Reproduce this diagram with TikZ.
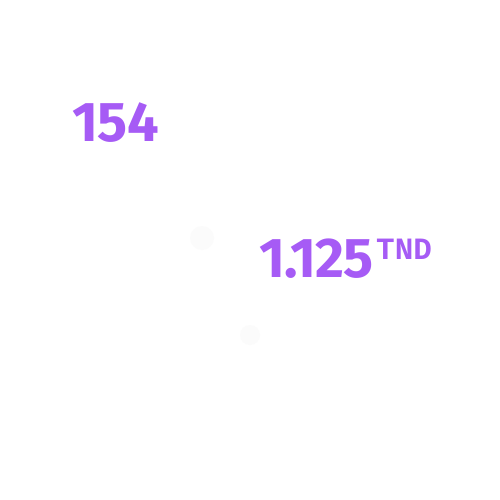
\documentclass[tikz,border=0pt]{standalone}
\usepackage{fontspec}
\setmainfont{Fira Sans}[UprightFont=* Bold]
\newfontfamily\monob{Liberation Mono}[UprightFont=* Bold]
\definecolor{numpurple}{HTML}{A65BF5}
\definecolor{faint}{HTML}{FBFBFB}
\begin{document}
\begin{tikzpicture}[x=1pt,y=-1pt,
  bignum/.style={text=numpurple,inner sep=0pt,anchor=base west,font=\fontsize{56}{56}\selectfont},
  unit/.style={text=numpurple,inner sep=0pt,anchor=base west,font=\monob\fontsize{31}{31}\selectfont}]
\useasboundingbox[fill=white] (0,0) rectangle (500,500);
\fill[faint] (202,238) circle (12);
\fill[faint] (250,335) circle (10);
\node[bignum] (a) at (72,141) {\addfontfeatures{LetterSpace=-1}154};
\node[bignum] (b) at (259,277) {\addfontfeatures{LetterSpace=-2}1.125};
\node[unit] (c) at (376,259) {\scalebox{1.0}[1]{TND}};
\end{tikzpicture}
\end{document}
